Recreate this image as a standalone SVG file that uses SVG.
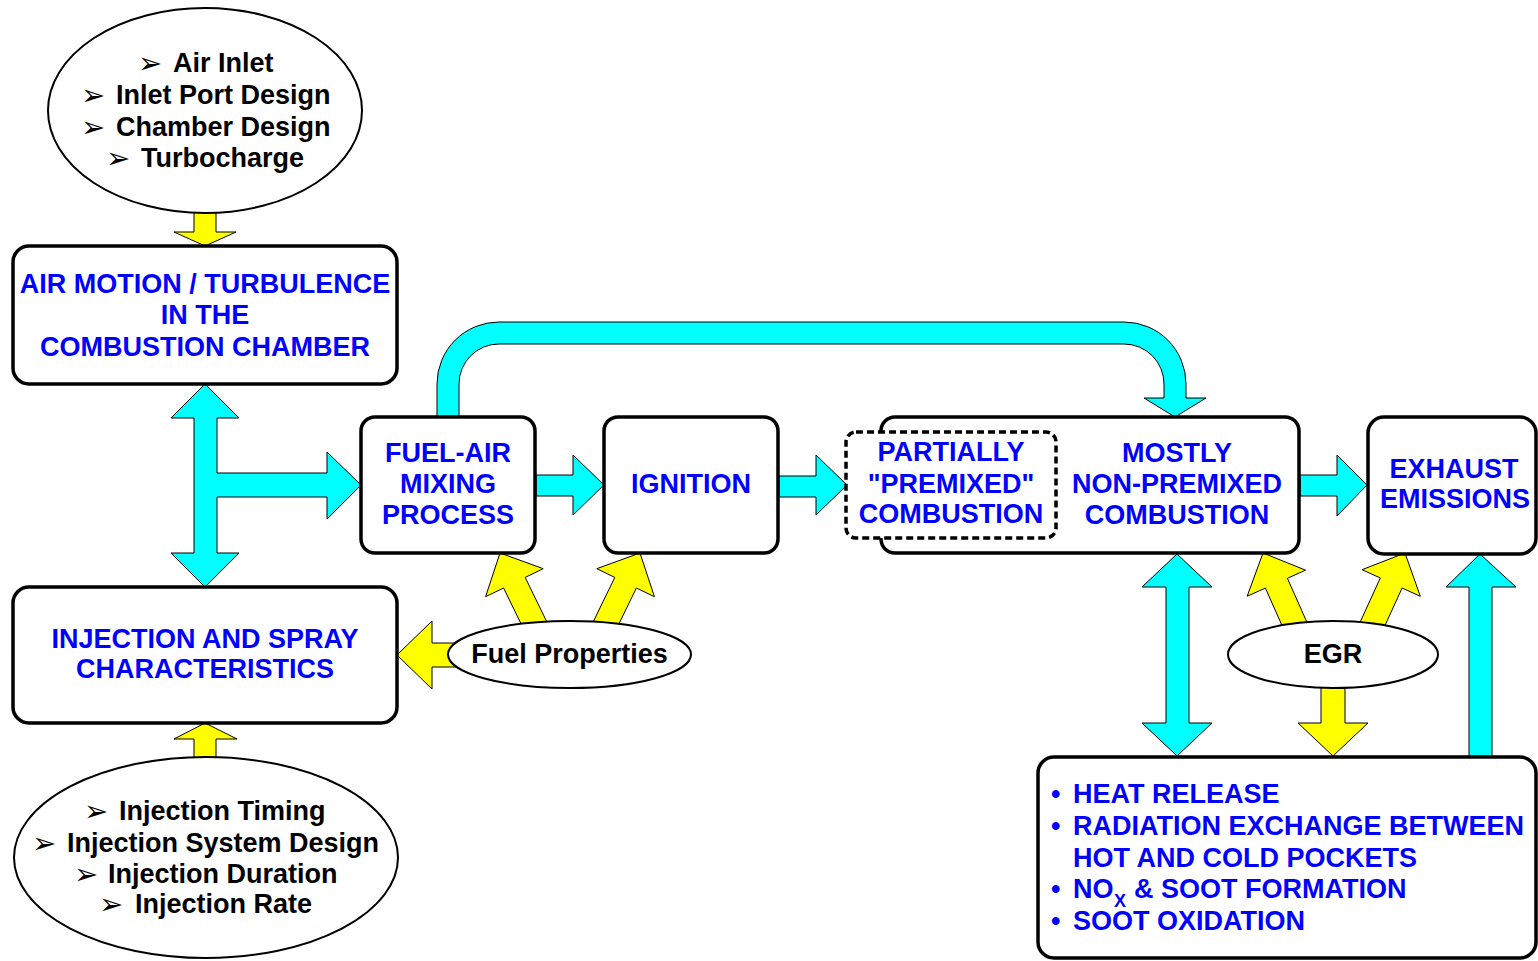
<svg xmlns="http://www.w3.org/2000/svg" width="1538" height="961" viewBox="0 0 1538 961">
<style>
.box{fill:#fff;stroke:#000;stroke-width:3.5}
.dash{fill:#fff;stroke:#000;stroke-width:3.5;stroke-dasharray:7 4}
.ell{fill:#fff;stroke:#000;stroke-width:2}
.cy{fill:#00FFFF;stroke:#000;stroke-width:1}
.ye{fill:#FFFF00;stroke:#000;stroke-width:1}
.bt{font-family:"Liberation Sans",Arial,sans-serif;font-weight:bold;font-size:27px;fill:#0000FF;text-anchor:middle}
.bl{font-family:"Liberation Sans",Arial,sans-serif;font-weight:bold;font-size:27px;fill:#0000FF}
.sub{font-family:"Liberation Sans",Arial,sans-serif;font-weight:bold;font-size:18px;fill:#0000FF}
.kt{font-family:"Liberation Sans",Arial,sans-serif;font-weight:bold;font-size:27px;fill:#000}
.ar{font-family:"DejaVu Sans",sans-serif;font-size:29px;fill:#000}
</style>
<g id="connectors">
<path class="cy" d="M437,417 L437,384 A62,62 0 0 1 499,322 L1124,322 A62,62 0 0 1 1186,384 L1186,398 L1206,398 L1175,417 L1144,398 L1164,398 L1164,384 A40,40 0 0 0 1124,344 L499,344 A40,40 0 0 0 459,384 L459,417 Z"/>
<polygon class="cy" points="205,384 239,418 217,418 217,473 327,473 327,452 361,485 327,519 327,497 217,497 217,553 239,553 205,587 171,553 194,553 194,418 171,418"/>
<polygon class="cy" points="536,475 573,475 573,455 604,485 573,515 573,496 536,496"/>
<polygon class="cy" points="779,476 816,476 816,455 847,485 816,515 816,497 779,497"/>
<polygon class="cy" points="1300,475 1337,475 1337,455 1367,485 1337,516 1337,496 1300,496"/>
<polygon class="cy" points="1177,554 1212,587 1189,587 1189,723 1212,723 1177,756 1142,723 1166,723 1166,587 1142,587"/>
<polygon class="cy" points="1480,554 1516,587 1492,587 1492,758 1469,758 1469,587 1446,587"/>
<polygon class="ye" points="194,205 216,205 216,232 236,232 205,246 174,232 194,232"/>
<polygon class="ye" points="205,723 237,739 216,739 216,765 194,765 194,739 174,739"/>
<polygon class="ye" points="397,655 432,621 432,643 462,643 462,667 432,667 432,689"/>
<polygon class="ye" points="500,553 543.2,568.7 525.2,577.4 548,624.3 526.4,634.8 503.6,588 485.6,596.7"/>
<polygon class="ye" points="640,553 654.4,596.7 636.4,588 613.6,634.8 592,624.3 614.8,577.4 596.8,568.7"/>
<polygon class="ye" points="1263,553 1305.6,570.2 1287.4,578.3 1308.5,625.8 1286.5,635.6 1265.4,588.1 1247.2,596.2"/>
<polygon class="ye" points="1405,553 1420.3,596.3 1402.1,588 1380.5,635.3 1358.7,625.3 1380.3,578 1362.1,569.7"/>
<polygon class="ye" points="1321,680 1345,680 1345,723 1368,723 1333,756 1298,723 1321,723"/>
</g>
<g id="air-inputs">
<ellipse class="ell" cx="205" cy="110.5" rx="157" ry="102.5"/>
<text class="ar" x="138" y="73">➢</text><text class="kt" x="173" y="72">Air Inlet</text>
<text class="ar" x="81" y="105">➢</text><text class="kt" x="116" y="104">Inlet Port Design</text>
<text class="ar" x="81" y="137">➢</text><text class="kt" x="116" y="136">Chamber Design</text>
<text class="ar" x="106" y="168">➢</text><text class="kt" x="141" y="167">Turbocharge</text>
</g>
<g id="air-motion">
<rect class="box" x="13" y="246" width="384" height="138" rx="16"/>
<text class="bt" x="205" y="293">AIR MOTION / TURBULENCE</text>
<text class="bt" x="205" y="324">IN THE</text>
<text class="bt" x="205" y="356">COMBUSTION CHAMBER</text>
</g>
<g id="injection-spray">
<rect class="box" x="13" y="587" width="384" height="136" rx="16"/>
<text class="bt" x="205" y="648">INJECTION AND SPRAY</text>
<text class="bt" x="205" y="678">CHARACTERISTICS</text>
</g>
<g id="injection-inputs">
<ellipse class="ell" cx="206" cy="857.5" rx="192" ry="100.5"/>
<text class="ar" x="84" y="821">➢</text><text class="kt" x="119" y="820">Injection Timing</text>
<text class="ar" x="32" y="853">➢</text><text class="kt" x="67" y="852">Injection System Design</text>
<text class="ar" x="74" y="884">➢</text><text class="kt" x="108" y="883">Injection Duration</text>
<text class="ar" x="99" y="914">➢</text><text class="kt" x="135" y="913">Injection Rate</text>
</g>
<g id="fuel-air-mixing">
<rect class="box" x="361" y="417" width="174" height="136" rx="14"/>
<text class="bt" x="448" y="462">FUEL-AIR</text>
<text class="bt" x="448" y="493">MIXING</text>
<text class="bt" x="448" y="524">PROCESS</text>
</g>
<g id="ignition">
<rect class="box" x="604" y="417" width="174" height="136" rx="14"/>
<text class="bt" x="691" y="493">IGNITION</text>
</g>
<g id="combustion">
<rect class="box" x="881" y="417" width="418" height="136" rx="14"/>
<rect class="dash" x="846" y="432" width="210" height="106" rx="10"/>
<text class="bt" x="951" y="461">PARTIALLY</text>
<text class="bt" x="951" y="493">"PREMIXED"</text>
<text class="bt" x="951" y="523">COMBUSTION</text>
<text class="bt" x="1177" y="462">MOSTLY</text>
<text class="bt" x="1177" y="493">NON-PREMIXED</text>
<text class="bt" x="1177" y="524">COMBUSTION</text>
</g>
<g id="exhaust-emissions">
<rect class="box" x="1368" y="417" width="168" height="137" rx="16"/>
<text class="bt" x="1454" y="478">EXHAUST</text>
<text class="bt" x="1455" y="508">EMISSIONS</text>
</g>
<g id="fuel-properties">
<ellipse class="ell" cx="569.5" cy="654.5" rx="121.5" ry="33.5"/>
<text class="kt" x="569.5" y="663" text-anchor="middle">Fuel Properties</text>
</g>
<g id="egr">
<ellipse class="ell" cx="1333" cy="654.5" rx="105" ry="33.5"/>
<text class="kt" x="1333" y="663" text-anchor="middle">EGR</text>
</g>
<g id="processes">
<rect class="box" x="1038" y="757" width="498" height="201" rx="16"/>
<text class="bl" x="1051" y="803">•</text><text class="bl" x="1073" y="803">HEAT RELEASE</text>
<text class="bl" x="1051" y="835">•</text><text class="bl" x="1073" y="835">RADIATION EXCHANGE BETWEEN</text>
<text class="bl" x="1073" y="867">HOT AND COLD POCKETS</text>
<text class="bl" x="1051" y="898">•</text><text class="bl" x="1073" y="898">NO</text>
<text class="sub" x="1114" y="907">X</text>
<text class="bl" x="1134" y="898">&amp; SOOT FORMATION</text>
<text class="bl" x="1051" y="930">•</text><text class="bl" x="1073" y="930">SOOT OXIDATION</text>
</g>
</svg>
